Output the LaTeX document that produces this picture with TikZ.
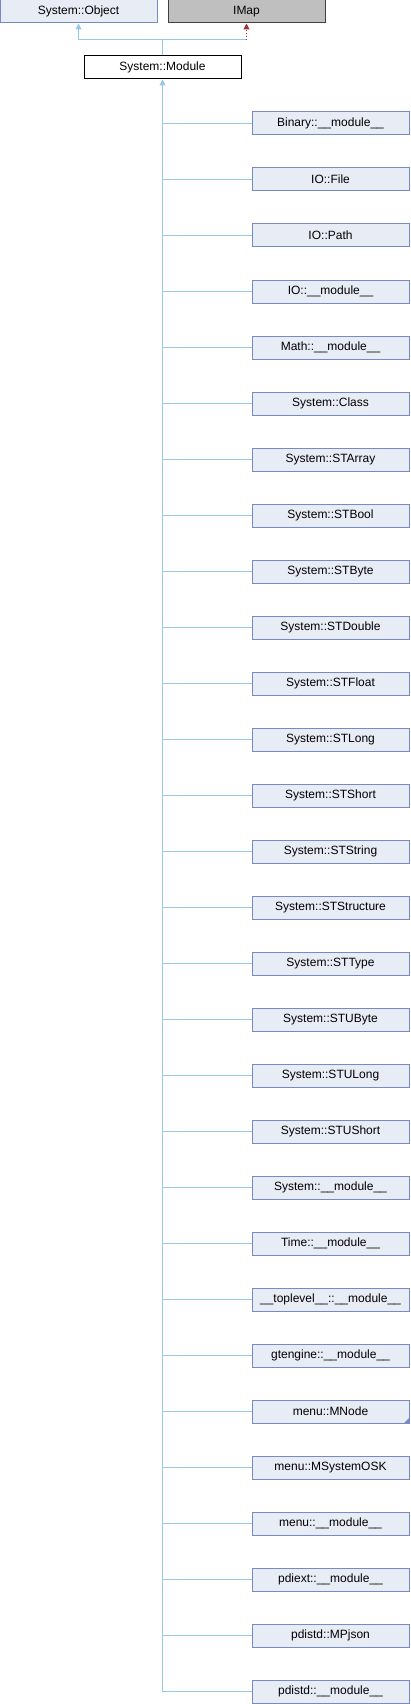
\documentclass[tikz,border=0pt]{standalone}
\usepackage{fontspec}
\setmainfont{Liberation Sans}
\usetikzlibrary{arrows.meta}
\definecolor{boxfill}{RGB}{232,236,244}
\definecolor{boxline}{RGB}{118,139,196}
\definecolor{edgeblue}{RGB}{150,200,232}
\definecolor{edgered}{RGB}{160,50,50}
\definecolor{grayfill}{RGB}{191,191,191}
\definecolor{grayline}{RGB}{64,64,64}
\tikzset{
  cls/.style={draw=boxline, fill=boxfill, line width=1pt, minimum width=157pt, minimum height=23pt, inner sep=0pt, font=\fontsize{12}{14}\selectfont},
  graycls/.style={cls, draw=grayline, fill=grayfill},
  whitecls/.style={cls, draw=black, fill=white},
  inh/.style={draw=edgeblue, line width=1pt},
  inharrow/.style={inh, -{Triangle[width=6pt,length=6pt]}},
  realize/.style={draw=edgered, line width=1pt, dotted, -{Triangle[width=6pt,length=6pt,fill=edgered]}}
}
\begin{document}
\begin{tikzpicture}[x=1pt,y=-1pt]
\useasboundingbox (0,0) rectangle (410,1704);
\node[cls] (obj) at (78.5,11.5) {System::Object};
\node[graycls] (imap) at (246.5,11.5) {IMap};
\node[whitecls] (mod) at (162.5,67.5) {System::Module};
\coordinate (j) at (162.5,40);
\coordinate (jr) at (246.5,40);
\draw[inh] (mod.north) -- (j);
\draw[inharrow] (j) -| (obj.south);
\draw[inh] (j) -- (jr);
\draw[realize] (jr) -- (imap.south);
\foreach \t [count=\i] in {Binary::\_\_module\_\_, IO::File, IO::Path, IO::\_\_module\_\_, Math::\_\_module\_\_, System::Class, System::STArray, System::STBool, System::STByte, System::STDouble, System::STFloat, System::STLong, System::STShort, System::STString, System::STStructure, System::STType, System::STUByte, System::STULong, System::STUShort, System::\_\_module\_\_, Time::\_\_module\_\_, \_\_toplevel\_\_::\_\_module\_\_, gtengine::\_\_module\_\_, menu::MNode, menu::MSystemOSK, menu::\_\_module\_\_, pdiext::\_\_module\_\_, pdistd::MPjson, pdistd::\_\_module\_\_}{
  \node[cls] (c\i) at (330.5,{123.5+56*(\i-1)}) {\t};
  \coordinate (t\i) at (162.5,{123.5+56*(\i-1)});
  \draw[inh] (t\i) -- (c\i.west);
}
\draw[inharrow] (t29) -- (mod.south);
\fill[boxline] (c24.south east) -- ++(-6,0) -- ++(6,-6) -- cycle;
\end{tikzpicture}
\end{document}
